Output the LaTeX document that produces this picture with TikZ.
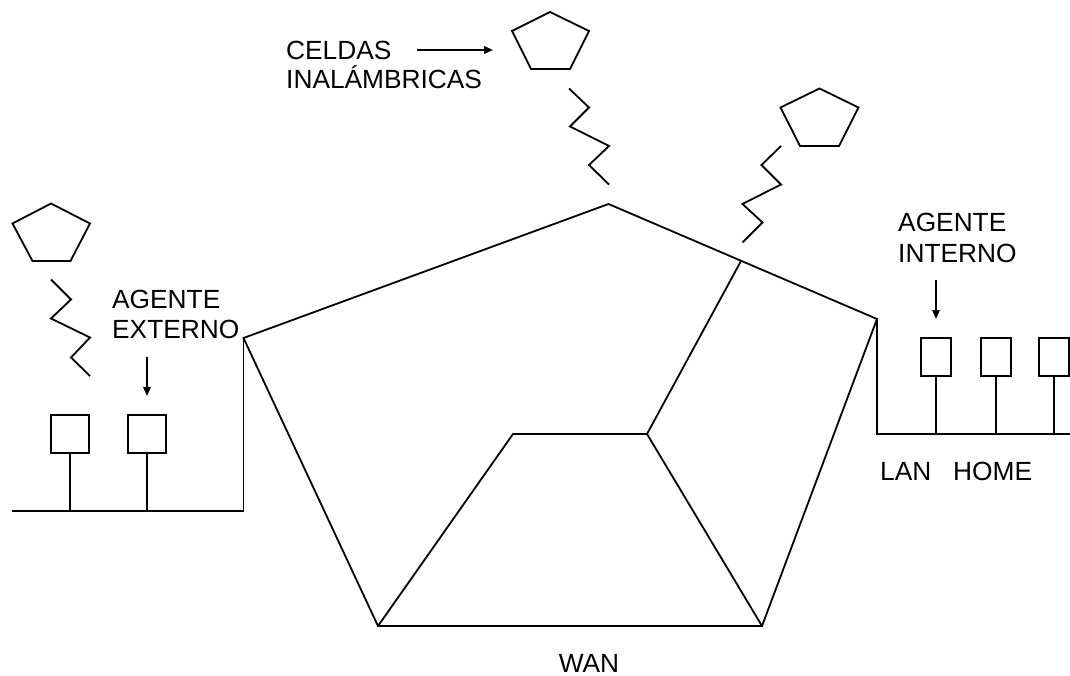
\documentclass[tikz,border=0pt]{standalone}
\usepackage{fontspec}
\setmainfont{Liberation Sans}
\usetikzlibrary{arrows.meta}
\begin{document}
\begin{tikzpicture}[x=1pt,y=-1pt,
  ln/.style={line width=1.8pt,line join=miter},
  lbl/.style={inner sep=0pt,anchor=base west,font=\fontsize{26.3}{31}\selectfont},
  pc/.style={draw,line width=1.8pt,rectangle,inner sep=0pt,minimum height=38pt},
  arr/.style={line width=1.8pt,-{Triangle[length=9pt,width=7.5pt]}}]
\useasboundingbox (0,0) rectangle (1070,676);
% WAN vertices
\coordinate (T) at (608.5,204);
\coordinate (L) at (243.5,338);
\coordinate (R) at (877,319);
\coordinate (BL) at (378,626);
\coordinate (BR) at (762,626);
\coordinate (IL) at (513,434);
\coordinate (IR) at (647,434);
\coordinate (J) at (741,261);
\draw[ln] (L) -- (T) -- (R) -- (BR) -- (BL) -- cycle;
\draw[ln] (BL) -- (IL) -- (IR) -- (BR);
\draw[ln] (IR) -- (J);
% left LAN
\coordinate (LB) at (243.5,511);
\coordinate (LE) at (12,511);
\draw[ln] (L) -- (LB) -- (LE);
\node[pc,minimum width=38pt] (lb1) at (70,434) {};
\node[pc,minimum width=38pt] (lb2) at (147,434) {};
\coordinate (ls1) at (70,511);
\coordinate (ls2) at (147,511);
\draw[ln] (lb1.south) -- (ls1);
\draw[ln] (lb2.south) -- (ls2);
% right LAN
\coordinate (RB) at (877,434);
\coordinate (RE) at (1070,434);
\draw[ln] (R) -- (RB) -- (RE);
\node[pc,minimum width=30pt] (rb1) at (936,357) {};
\node[pc,minimum width=30pt] (rb2) at (996,357) {};
\node[pc,minimum width=30pt] (rb3) at (1054,357) {};
\coordinate (rs1) at (936,434);
\coordinate (rs2) at (996,434);
\coordinate (rs3) at (1054,434);
\draw[ln] (rb1.south) -- (rs1);
\draw[ln] (rb2.south) -- (rs2);
\draw[ln] (rb3.south) -- (rs3);
% pentagons (cells)
\draw[ln] (51,203.5) -- (90,223.5) -- (70.5,261) -- (32.5,261) -- (12.5,223.5) -- cycle;
\draw[ln] (550,12) -- (589,31) -- (570,69) -- (531,69) -- (512,31) -- cycle;
\draw[ln] (819.5,88.5) -- (858.5,107.5) -- (839,146) -- (800,146) -- (780.5,107.5) -- cycle;
% zigzags
\draw[ln] (51,279.5) -- (71,299.5) -- (51,318.5) -- (90,337.5) -- (71,357.5) -- (90,376);
\draw[ln] (569,88.5) -- (589,107.5) -- (570,126.5) -- (609,146) -- (589,165) -- (609,184.5);
\draw[ln] (781,146) -- (761.5,165) -- (781,184.5) -- (742.5,204) -- (762.5,222.5) -- (742.5,242.5);
% labels
\node[lbl] (celdas) at (286,60) {CELDAS};
\node[lbl] (inal) at (286,89) {INALÁMBRICAS};
\coordinate (ca1) at (417,50);
\coordinate (ca2) at (493,50);
\draw[arr] (ca1) -- (ca2);
\node[lbl] (ag1) at (112,308.5) {AGENTE};
\node[lbl] (ext) at (112,338) {EXTERNO};
\coordinate (ea1) at (147,357);
\coordinate (ea2) at (147,396);
\draw[arr] (ea1) -- (ea2);
\node[lbl] (ag2) at (898,231.5) {AGENTE};
\node[lbl] (int) at (898,262) {INTERNO};
\coordinate (ia1) at (936,280);
\coordinate (ia2) at (936,319);
\draw[arr] (ia1) -- (ia2);
\node[lbl] (lan) at (880,480) {LAN};
\node[lbl] (home) at (953,480) {HOME};
\node[inner sep=0pt,anchor=base,font=\fontsize{26.3}{31}\selectfont] (wan) at (589,672) {WAN};
\end{tikzpicture}
\end{document}
